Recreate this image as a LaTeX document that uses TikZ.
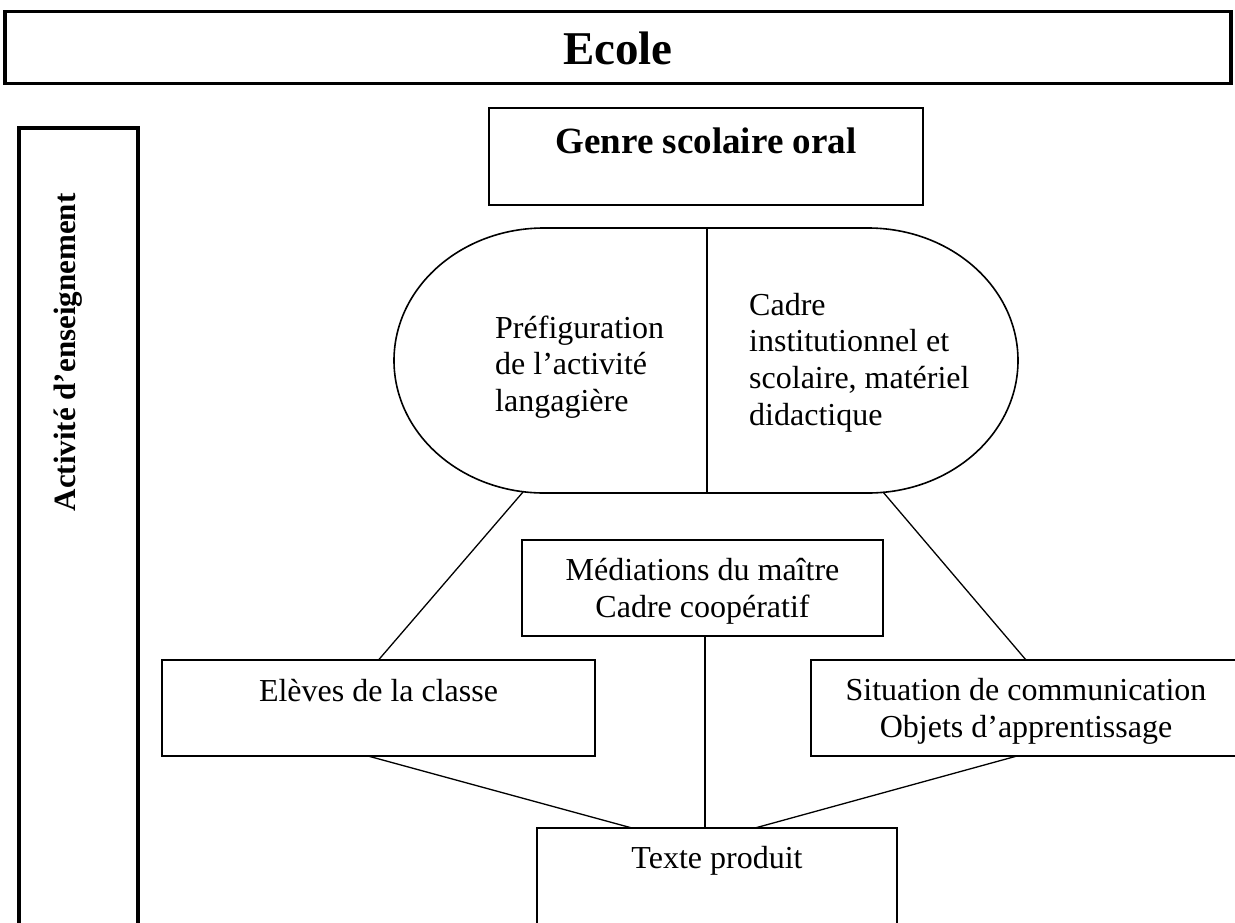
\documentclass[tikz,border=0pt]{standalone}
\usepackage{fontspec}
\setmainfont{Liberation Serif}
\begin{document}
\begin{tikzpicture}[x=1pt,y=-1pt,
  boxline/.style={draw, line width=1.6pt, inner sep=0pt, outer sep=0pt},
  thickbox/.style={draw, line width=3.5pt, inner sep=0pt, outer sep=0pt},
  conn/.style={line width=1.3pt},
  txt/.style={font=\fontsize{32}{37}\selectfont, inner sep=0pt, anchor=base},
  txtl/.style={txt, anchor=base west},
]
\useasboundingbox (0,0) rectangle (1235,922);
\fill[white] (0,0) rectangle (1235,922);
\clip (0,0) rectangle (1235,922);

% Ecole
\node[thickbox, minimum width=1226pt, minimum height=72pt] (ecole) at (618,47.6) {};
\node[font=\bfseries\fontsize{47}{50}\selectfont, inner sep=0pt, anchor=base] (ecoleT) at (618,64) {Ecole};

% Activite d'enseignement
\node[thickbox, minimum width=119pt, minimum height=820pt, anchor=north] (act) at (78.5,128) {};
\node[font=\bfseries\fontsize{31}{34}\selectfont, rotate=90, anchor=base, inner sep=0pt] (actT) at (75,352.5) {Activité d’enseignement};

% Genre scolaire oral
\node[boxline, minimum width=434pt, minimum height=97pt] (genre) at (706,156.5) {};
\node[font=\bfseries\fontsize{37}{40}\selectfont, inner sep=0pt, anchor=base] (genreT) at (706,153) {Genre scolaire oral};

% Pill
\draw[line width=1.6pt] (544,228) -- (868,228)
  arc[start angle=-90, end angle=90, x radius=150, y radius=132.5]
  -- (544,493)
  arc[start angle=90, end angle=270, x radius=150, y radius=132.5] -- cycle;
\coordinate (pillT) at (707,228);
\coordinate (pillB) at (707,493);
\coordinate (pillBL) at (523,492);
\coordinate (pillBR) at (883,492);
\draw[conn] (pillT) -- (pillB);
\node[txtl] (p1) at (495,338) {Préfiguration};
\node[txtl] (p2) at (495,374.8) {de l’activité};
\node[txtl] (p3) at (495,411.6) {langagière};
\node[txtl] (c1) at (749,315) {Cadre};
\node[txtl] (c2) at (749,351.8) {institutionnel et};
\node[txtl] (c3) at (749,388.6) {scolaire, matériel};
\node[txtl] (c4) at (749,425.4) {didactique};

% Mediations
\node[boxline, minimum width=361pt, minimum height=96pt] (med) at (702.5,588) {};
\node[txt] (m1) at (702.5,580) {Médiations du maître};
\node[txt] (m2) at (702.5,617) {Cadre coopératif};

% Eleves
\node[boxline, minimum width=433pt, minimum height=96pt] (eleves) at (378.5,708) {};
\node[txt] (e1) at (378.5,701) {Elèves de la classe};

% Situation
\node[boxline, minimum width=430pt, minimum height=96pt] (sit) at (1026,708) {};
\node[txt] (s1) at (1026,700) {Situation de communication};
\node[txt] (s2) at (1026,737) {Objets d’apprentissage};

% Texte produit
\node[boxline, minimum width=360pt, minimum height=140pt, anchor=north] (texte) at (717,828) {};
\node[txt] (t1) at (717,868) {Texte produit};

% connectors
\draw[conn] (pillBL) -- (eleves.north);
\draw[conn] (pillBR) -- (sit.north);
\draw[conn] ([xshift=2.5pt]med.south) -- ([xshift=-12pt]texte.north);
\draw[conn] ([xshift=-10.5pt]eleves.south) -- ([xshift=-85pt]texte.north);
\draw[conn] ([xshift=-9pt]sit.south) -- ([xshift=38pt]texte.north);
\end{tikzpicture}
\end{document}
